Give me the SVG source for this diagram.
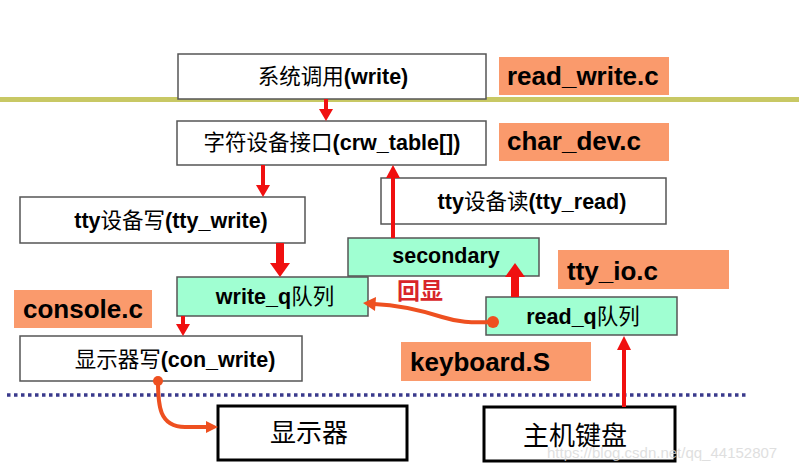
<svg xmlns="http://www.w3.org/2000/svg" width="799" height="471" viewBox="0 0 799 471">
<style>
.box{fill:#fff;stroke:#555;stroke-width:1.5}
.gbox{fill:#A0FFD2;stroke:#555;stroke-width:1.5}
.kbox{fill:#fff;stroke:#000;stroke-width:3}
.tag{fill:#FA9A6C}
.t{font-family:"Liberation Sans","Noto Sans CJK SC",sans-serif;font-weight:bold;font-size:21.5px;fill:#000;text-anchor:middle}
.t tspan.c{font-weight:normal}
.big{font-family:"Liberation Sans","Noto Sans CJK SC",sans-serif;font-size:26px;fill:#000;text-anchor:middle}
.lab{font-family:"Liberation Sans",Arial,sans-serif;font-weight:bold;font-size:26px;fill:#000}
.red{stroke:#F01010;fill:none}
.head{fill:#F01010}
.org{stroke:#EE5020;fill:none;stroke-width:4}
.orgf{fill:#EE5020}
</style>
<rect x="0" y="97" width="799" height="5" fill="#C8C864"/>
<line x1="7" y1="395" x2="748" y2="395" stroke="#3A3A8C" stroke-width="3.5" stroke-dasharray="3.5 3.5"/>
<g id="n-syscall"><rect class="box" x="178" y="54" width="308" height="45"/><text class="t" x="333" y="84"><tspan class="c">系统调用</tspan>(write)</text></g>
<g id="n-readwrite"><rect class="tag" x="499" y="57" width="170" height="38"/><text class="lab" x="507" y="85">read_write.c</text></g>
<g id="n-chardev-if"><rect class="box" x="177" y="121" width="309" height="44"/><text class="t" x="332" y="150"><tspan class="c">字符设备接口</tspan>(crw_table[])</text></g>
<g id="n-chardev"><rect class="tag" x="499" y="123" width="170" height="38"/><text class="lab" x="507" y="150">char_dev.c</text></g>
<g id="n-ttyread"><rect class="box" x="381" y="178" width="285" height="46"/><text class="t" x="532" y="209">tty<tspan class="c">设备读</tspan>(tty_read)</text></g>
<g id="n-ttywrite"><rect class="box" x="20" y="197" width="285" height="46"/><text class="t" x="171" y="228">tty<tspan class="c">设备写</tspan>(tty_write)</text></g>
<g id="n-secondary"><rect class="gbox" x="348" y="238" width="191" height="38"/><text class="t" x="446" y="263">secondary</text></g>
<g id="n-ttyio"><rect class="tag" x="558" y="250" width="171" height="39"/><text class="lab" x="567" y="280">tty_io.c</text></g>
<g id="n-writeq"><rect class="gbox" x="177" y="277" width="191" height="39"/><text class="t" x="275" y="304">write_q<tspan class="c">队列</tspan></text></g>
<g id="n-console"><rect class="tag" x="14" y="290" width="138" height="38"/><text class="lab" x="23" y="318">console.c</text></g>
<g id="n-readq"><rect class="gbox" x="486" y="297" width="191" height="38"/><text class="t" x="583" y="324">read_q<tspan class="c">队列</tspan></text></g>
<g id="n-conwrite"><rect class="box" x="20" y="336" width="282" height="45"/><text class="t" x="175" y="367"><tspan class="c">显示器写</tspan>(con_write)</text></g>
<g id="n-keyboard"><rect class="tag" x="401" y="342" width="190" height="39"/><text class="lab" x="410" y="371">keyboard.S</text></g>
<g id="n-display"><rect class="kbox" x="218" y="406" width="189" height="54"/><text class="big" x="309" y="442">显示器</text></g>
<g id="n-kbd"><rect class="kbox" x="484" y="407" width="191" height="54"/><text class="big" x="575" y="445">主机键盘</text></g>
<g id="connectors">
<line class="red" x1="326" y1="99" x2="326" y2="110" stroke-width="4"/><polygon class="head" points="319,109 333,109 326,121"/>
<line class="red" x1="263" y1="165" x2="263" y2="186" stroke-width="4"/><polygon class="head" points="256,185 270,185 263,197"/>
<line class="red" x1="393" y1="238" x2="393" y2="176" stroke-width="4"/><polygon class="head" points="386,178 400,178 393,165"/>
<line class="red" x1="280" y1="243" x2="280" y2="264" stroke-width="8"/><polygon class="head" points="270,263 290,263 280,277"/>
<line class="red" x1="183" y1="316" x2="183" y2="325" stroke-width="4"/><polygon class="head" points="176,324 190,324 183,336"/>
<line class="red" x1="624" y1="407" x2="624" y2="348" stroke-width="4"/><polygon class="head" points="617,350 631,350 624,336"/>
<line class="red" x1="515" y1="297" x2="515" y2="276" stroke-width="8"/><polygon class="head" points="505,277 525,277 515,263"/>
<path class="org" d="M493,322 C470,323 458,322 442,317 C420,310 400,305 374,304"/><polygon class="orgf" points="363,303 376,297 375,311"/><circle class="orgf" cx="493" cy="322" r="6"/>
<path class="org" d="M158,381 C158,405 159,427 185,427 L207,427" stroke-width="3.5"/><polygon class="orgf" points="218,427 206,421 206,433"/><circle class="orgf" cx="158" cy="381" r="5"/>
</g>
<text x="397" y="299" font-family="Liberation Sans,Noto Sans CJK SC,sans-serif" font-size="23" font-weight="bold" fill="#D8262A">回显</text>
<text x="547" y="458" font-family="Liberation Sans,sans-serif" font-size="15" fill="#D8D8D8" opacity="0.8">https://blog.csdn.net/qq_44152807</text>
</svg>
